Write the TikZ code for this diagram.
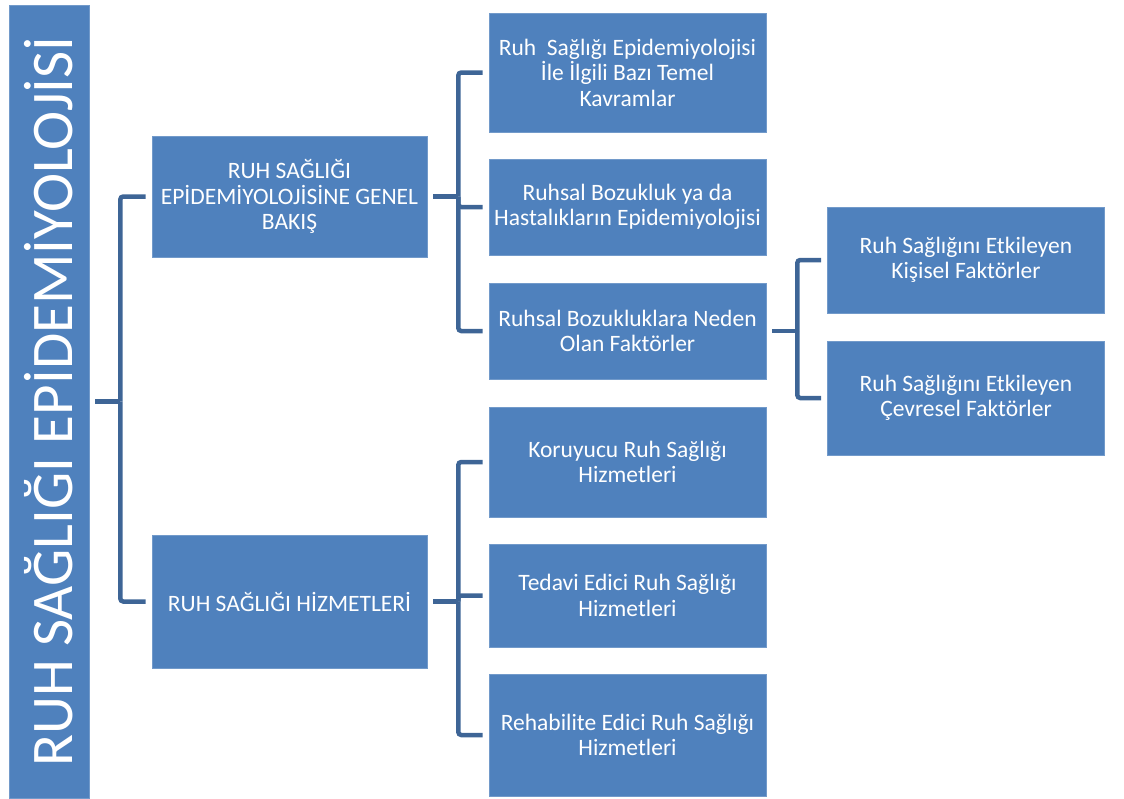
\documentclass[tikz,border=0pt]{standalone}
\usepackage{fontspec}
\setmainfont{Carlito}
\definecolor{box_blue}{RGB}{79,129,189}
\definecolor{edge_blue}{RGB}{62,101,150}

\begin{document}
\begin{tikzpicture}[x=1pt,y=-1pt]
    \tikzstyle{box}=[draw=box_blue!80!white, line width=0.6pt, fill=box_blue, text=white, align=center, inner sep=1pt, minimum width=277pt, font=\fontsize{23.5}{25.5}\selectfont]
    \tikzstyle{link}=[draw=edge_blue, line width=4.5pt, rounded corners=3pt]

    \useasboundingbox (0,0) rectangle (1124,798);

    \node[box, minimum width=80pt, minimum height=793pt] (root) at (49,401.5) {\rotatebox{90}{\fontsize{59}{59}\selectfont RUH SAĞLIĞI EPİDEMİYOLOJİSİ}};

    \node[box, minimum width=275pt, minimum height=121pt] (genel)  at (289.5,196.5) {RUH SAĞLIĞI\\EPİDEMİYOLOJİSİNE GENEL\\BAKIŞ};
    \node[box, minimum width=275pt, minimum height=133pt] (hizmet) at (289.5,601.5) {RUH SAĞLIĞI HİZMETLERİ};

    \node[box, minimum height=119pt] (temel)  at (627.5,72.5)  {Ruh~ Sağlığı Epidemiyolojisi\\İle İlgili Bazı Temel\\Kavramlar};
    \node[box, minimum height=96pt]  (bozuk)  at (627.5,207)   {Ruhsal Bozukluk ya da\\Hastalıkların Epidemiyolojisi};
    \node[box, minimum height=96pt]  (neden)  at (627.5,331)   {Ruhsal Bozukluklara Neden\\Olan Faktörler};
    \node[box, minimum height=110pt] (koru)   at (627.5,462)   {Koruyucu Ruh Sağlığı\\Hizmetleri};
    \node[box, minimum height=103pt] (tedavi) at (627.5,595.5) {Tedavi Edici Ruh Sağlığı\\Hizmetleri};
    \node[box, minimum height=122pt] (rehab)  at (627.5,735)   {Rehabilite Edici Ruh Sağlığı\\Hizmetleri};

    \node[box, minimum height=106pt] (kisisel) at (966,260) {Ruh Sağlığını Etkileyen\\Kişisel Faktörler};
    \node[box, minimum height=114pt] (cevre)   at (966,398) {Ruh Sağlığını Etkileyen\\Çevresel Faktörler};

    % brackets
    \draw[link] ([xshift=6pt]root.east)  -- ++(25pt,0) coordinate (j0);
    \draw[link] ([xshift=6pt]genel.east) -- ++(25pt,0) coordinate (j1);
    \draw[link] ([xshift=6pt]hizmet.east) -- ++(25pt,0) coordinate (j2);
    \draw[link] ([xshift=6pt]neden.east) -- ++(25pt,0) coordinate (j3);

    \draw[link] (j0) |- ([xshift=-6pt]genel.west);
    \draw[link] (j0) |- ([xshift=-6pt]hizmet.west);
    \draw[link] (j1) |- ([xshift=-6pt]temel.west);
    \draw[link] (j1) |- ([xshift=-6pt]bozuk.west);
    \draw[link] (j1) |- ([xshift=-6pt]neden.west);
    \draw[link] (j2) |- ([xshift=-6pt]koru.west);
    \draw[link] (j2) |- ([xshift=-6pt]tedavi.west);
    \draw[link] (j2) |- ([xshift=-6pt]rehab.west);
    \draw[link] (j3) |- ([xshift=-6pt]kisisel.west);
    \draw[link] (j3) |- ([xshift=-6pt]cevre.west);
\end{tikzpicture}
\end{document}
